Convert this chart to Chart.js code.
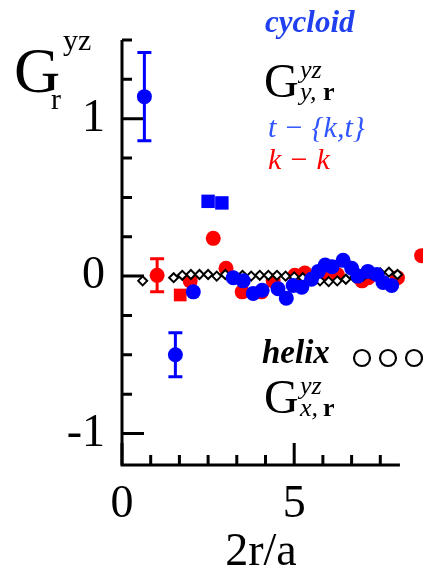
<!DOCTYPE html>
<html>
<head>
<meta charset="utf-8">
<script src="https://cdn.jsdelivr.net/npm/chart.js@4/dist/chart.umd.min.js"></script>
<style>
    html, body { margin: 0; padding: 0; background: #fff; }
    canvas { display: block; }
</style>
</head>
<body>
<canvas id="gr-chart" width="423" height="569"></canvas>
<script>
// cycloid, t - {k,t}
const blueX = [0.65, 1.55, 2.07, 2.5, 2.9, 3.23, 3.52, 3.81, 4.07, 4.53, 4.77, 4.97, 5.22, 5.5, 5.7, 5.9, 6.1, 6.42, 6.67, 6.85, 7.14, 7.4, 7.58, 7.83];
const blueY = [1.14, -0.5, -0.1, 0.475, 0.465, -0.01, -0.03, -0.11, -0.09, -0.08, -0.14, -0.06, -0.07, -0.02, 0.03, 0.07, 0.06, 0.1, 0.05, 0.0, 0.03, 0.01, -0.04, -0.06];
const blueErr = [0.28, 0.14, 0, 0, 0, 0, 0, 0, 0, 0, 0, 0, 0, 0, 0, 0, 0, 0, 0, 0, 0, 0, 0, 0];

// cycloid, k - k
const redX = [1.02, 1.69, 1.98, 2.65, 3.02, 3.49, 4.05, 4.39, 5.02, 5.31, 5.8, 6.04, 6.25, 6.97, 7.15, 8.0, 8.7];
const redY = [0.005, -0.12, -0.03, 0.24, 0.05, -0.1, -0.1, -0.03, 0.005, 0.02, 0.01, 0.04, 0.01, -0.03, -0.01, -0.01, 0.13];
const redErr = [0.105, 0, 0, 0, 0, 0, 0, 0, 0, 0, 0, 0, 0, 0, 0, 0, 0];

// helix
const helixX = [0.6, 1.5, 1.75, 2.0, 2.25, 2.5, 2.75, 3.0, 3.25, 3.5, 3.75, 4.0, 4.25, 4.5, 4.75, 5.0, 5.25, 5.5, 5.75, 6.0, 6.25, 6.5, 6.75, 7.0, 7.25, 7.5, 7.75, 8.0];
const helixY = [-0.03, -0.01, 0.005, 0.01, 0.01, 0.01, 0.0, 0.01, 0.0, 0.005, 0.0, 0.005, 0.005, 0.005, 0.0, -0.005, -0.01, -0.02, -0.03, -0.035, -0.03, -0.02, -0.01, 0.0, 0.01, 0.02, 0.025, 0.01];

const xTickLabels = [0, 5];
const xMinorTicks = [0.833, 1.667, 2.5, 3.333, 4.167, 5.833, 6.667, 7.5];
const yTickLabels = [-1, 0, 1];
const yMinorTicks = [-0.75, -0.5, -0.25, 0.25, 0.5, 0.75, 1.25, 1.5];

// scale runs a little past the drawn axis so the last red point still shows at the edge
const X_MIN = 0, X_MAX = 8.74, X_AXIS_END = 8.07, Y_MIN = -1.2, Y_MAX = 1.5;
const BLUE = '#0000ff';
const RED = '#ff0000';
const SERIF = '"Liberation Serif", "Times New Roman", serif';

const toPoints = (xs, ys) => xs.map((x, i) => ({ x, y: ys[i] }));
const squareBlue = [3, 4];
const squareRed = [1];

const axesPlugin = {
    id: 'axesPlugin',
    beforeDatasetsDraw(chart) {
        const { ctx, scales: { x, y } } = chart;
        const left = x.getPixelForValue(X_MIN);
        const right = x.getPixelForValue(X_AXIS_END);
        const top = y.getPixelForValue(Y_MAX);
        const bottom = y.getPixelForValue(Y_MIN);
        ctx.save();
        ctx.strokeStyle = '#000';
        ctx.lineWidth = 3;
        ctx.beginPath();
        ctx.moveTo(left, top);
        ctx.lineTo(left, bottom);
        ctx.lineTo(right, bottom);
        ctx.stroke();
        ctx.beginPath();
        yTickLabels.forEach(v => { const p = y.getPixelForValue(v); ctx.moveTo(left, p); ctx.lineTo(left + 22, p); });
        yMinorTicks.forEach(v => { const p = y.getPixelForValue(v); ctx.moveTo(left, p); ctx.lineTo(left + 10, p); });
        xTickLabels.forEach(v => { const p = x.getPixelForValue(v); ctx.moveTo(p, bottom); ctx.lineTo(p, bottom - 22); });
        xMinorTicks.forEach(v => { const p = x.getPixelForValue(v); ctx.moveTo(p, bottom); ctx.lineTo(p, bottom - 10); });
        ctx.stroke();

        // error bars
        const bars = [[blueX, blueY, blueErr, BLUE], [redX, redY, redErr, RED]];
        ctx.lineWidth = 3;
        bars.forEach(([xs, ys, errs, color]) => {
            ctx.strokeStyle = color;
            ctx.beginPath();
            xs.forEach((xv, i) => {
                if (!errs[i]) return;
                const px = x.getPixelForValue(xv);
                const lo = y.getPixelForValue(ys[i] - errs[i]);
                const hi = y.getPixelForValue(ys[i] + errs[i]);
                ctx.moveTo(px, lo); ctx.lineTo(px, hi);
                ctx.moveTo(px - 7, lo); ctx.lineTo(px + 7, lo);
                ctx.moveTo(px - 7, hi); ctx.lineTo(px + 7, hi);
            });
            ctx.stroke();
        });
        ctx.restore();
    },
    afterDraw(chart) {
        const { ctx, scales: { x } } = chart;
        ctx.save();
        ctx.textBaseline = 'alphabetic';
        ctx.textAlign = 'left';
        const put = (s, px, py, font, color) => {
            ctx.font = font;
            ctx.fillStyle = color;
            ctx.fillText(s, px, py);
        };

        // x axis title, centred under the drawn axis
        ctx.textAlign = 'center';
        put('2r/a', (x.getPixelForValue(X_MIN) + x.getPixelForValue(X_AXIS_END)) / 2, 565, `46px ${SERIF}`, '#000');
        ctx.textAlign = 'left';

        // y axis title
        put('G', 14, 92, `64px ${SERIF}`, '#000');
        put('yz', 63, 50, `30px ${SERIF}`, '#000');
        put('r', 51, 109, `30px ${SERIF}`, '#000');

        // cycloid block
        put('cycloid', 265, 32, `bold italic 31px ${SERIF}`, '#1f3ff0');
        put('G', 264, 97, `48px ${SERIF}`, '#000');
        put('yz', 300, 78, `italic 26px ${SERIF}`, '#000');
        put('y,', 300, 100, `italic 26px ${SERIF}`, '#000');
        put('r', 323, 100, `bold 26px ${SERIF}`, '#000');
        put('t − {k,t}', 268, 137, `italic 30px ${SERIF}`, '#2f55ff');
        put('k − k', 268, 169, `italic 30px ${SERIF}`, RED);

        // helix block
        put('helix', 262, 363, `bold italic 33px ${SERIF}`, '#000');
        ctx.strokeStyle = '#000';
        ctx.lineWidth = 2.2;
        [362, 388, 414].forEach(cx => {
            ctx.beginPath();
            ctx.arc(cx, 358, 8, 0, Math.PI * 2);
            ctx.stroke();
        });
        put('G', 264, 413, `48px ${SERIF}`, '#000');
        put('yz', 300, 394, `italic 26px ${SERIF}`, '#000');
        put('x,', 300, 416, `italic 26px ${SERIF}`, '#000');
        put('r', 323, 416, `bold 26px ${SERIF}`, '#000');
        ctx.restore();
    },
};

new Chart(document.getElementById('gr-chart'), {
    type: 'scatter',
    data: {
        datasets: [
            {
                label: 't - {k,t}',
                data: toPoints(blueX, blueY),
                order: 1,
                clip: false,
                backgroundColor: BLUE,
                borderColor: BLUE,
                borderWidth: 0,
                pointStyle: (c) => (squareBlue.includes(c.dataIndex) ? 'rect' : 'circle'),
                pointRadius: (c) => (squareBlue.includes(c.dataIndex) ? 9.5 : 7.5),
            },
            {
                label: 'helix',
                data: toPoints(helixX, helixY),
                order: 2,
                clip: false,
                pointStyle: 'rectRot',
                pointRadius: 4.5,
                backgroundColor: '#fff',
                borderColor: '#000',
                borderWidth: 2,
            },
            {
                label: 'k - k',
                data: toPoints(redX, redY),
                order: 3,
                clip: false,
                backgroundColor: RED,
                borderColor: RED,
                borderWidth: 0,
                pointStyle: (c) => (squareRed.includes(c.dataIndex) ? 'rect' : 'circle'),
                pointRadius: (c) => (squareRed.includes(c.dataIndex) ? 9 : 7.5),
            },
        ],
    },
    options: {
        responsive: false,
        animation: false,
        layout: {
            autoPadding: false,
            padding: { top: 40, right: 0, left: 0, bottom: 0 },
        },
        plugins: {
            legend: { display: false },
            tooltip: { enabled: false },
        },
        scales: {
            x: {
                type: 'linear',
                min: X_MIN,
                max: X_MAX,
                border: { display: false },
                grid: { display: false, drawTicks: false },
                afterBuildTicks: (scale) => { scale.ticks = xTickLabels.map(value => ({ value })); },
                afterFit: (scale) => { scale.height = 104; scale.paddingLeft = 0; scale.paddingRight = 0; },
                ticks: {
                    padding: 12,
                    color: '#000',
                    font: { family: SERIF, size: 46 },
                    callback: (v) => String(v),
                },
            },
            y: {
                type: 'linear',
                min: Y_MIN,
                max: Y_MAX,
                border: { display: false },
                grid: { display: false, drawTicks: false },
                afterBuildTicks: (scale) => { scale.ticks = yTickLabels.map(value => ({ value })); },
                afterFit: (scale) => { scale.width = 122; scale.paddingTop = 0; scale.paddingBottom = 0; },
                ticks: {
                    padding: 17,
                    color: '#000',
                    font: { family: SERIF, size: 46 },
                    callback: (v) => String(v),
                },
            },
        },
    },
    plugins: [axesPlugin],
});
</script>
</body>
</html>
